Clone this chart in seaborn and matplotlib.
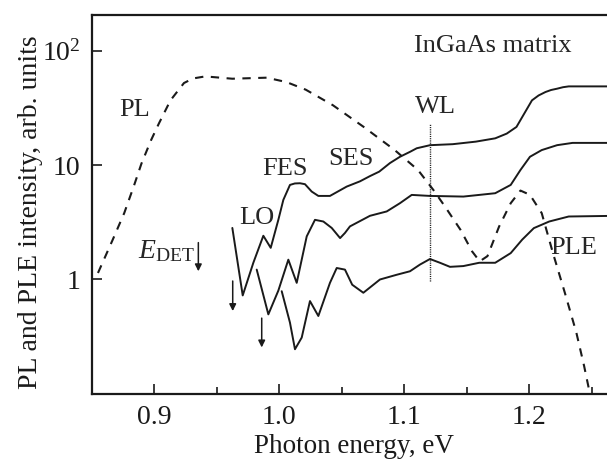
import numpy as np
import pandas as pd
import matplotlib
matplotlib.use("Agg")
import matplotlib.pyplot as plt
import seaborn as sns
from matplotlib.ticker import FixedLocator, FixedFormatter, NullLocator, MultipleLocator

# ---------------- data ----------------
pl_x = [0.855, 0.8666, 0.876, 0.8836, 0.8898, 0.8975, 0.9037, 0.913, 0.9238, 0.931, 0.9408,
        0.9625, 0.990, 1.0058, 1.0212, 1.0429, 1.0676, 1.0924, 1.111, 1.1233, 1.1326,
        1.145, 1.1543, 1.1604, 1.1666, 1.1759, 1.1852, 1.193, 1.2006, 1.21, 1.219,
        1.2285, 1.2377, 1.2439, 1.2486]
pl_y = [1.14, 2.2, 3.8, 6.5, 10.3, 16.5, 23.0, 36.7, 52.0, 57.0, 59.4,
        56.7, 57.9, 53.0, 45.5, 33.3, 21.5, 13.5, 9.05, 6.06, 4.34,
        2.72, 1.76, 1.44, 1.6, 2.9, 4.64, 5.98, 5.49, 3.8, 1.7,
        0.766, 0.344, 0.176, 0.1]

ple1_x = [0.9625, 0.9708, 0.9793, 0.9873, 0.9932, 0.9993, 1.0033, 1.0086, 1.0125, 1.0166, 1.0206,
          1.026, 1.0313, 1.0406, 1.054, 1.0646, 1.0726, 1.08, 1.0886, 1.0966, 1.1048,
          1.11, 1.1207, 1.1388, 1.1573, 1.1728, 1.182, 1.1898, 1.196, 1.2022, 1.2075, 1.213,
          1.2175, 1.2223, 1.227, 1.2316, 1.27]
ple1_y = [2.82, 0.726, 1.40, 2.41, 1.89, 3.32, 4.96, 6.7, 6.9, 6.93, 6.8,
          5.86, 5.37, 5.37, 6.48, 7.2, 8.0, 8.75, 10.4, 11.8, 13.06,
          14.0, 14.9, 15.2, 16.0, 17.1, 18.8, 21.5, 28.1, 36.7, 40.5, 43.4,
          45.2, 46.4, 47.8, 48.6, 48.6]

ple2_x = [0.982, 0.9913, 0.9993, 1.0073, 1.014, 1.022, 1.0286, 1.0353, 1.042, 1.0487,
          1.0526, 1.0566, 1.0726, 1.086, 1.0966, 1.106, 1.1206, 1.1473, 1.16, 1.1728,
          1.1852, 1.193, 1.2006, 1.21, 1.2223, 1.2347, 1.27]
ple2_y = [1.22, 0.496, 0.80, 1.49, 0.935, 2.38, 3.32, 3.21, 2.82, 2.30,
          2.55, 2.91, 3.6, 3.93, 4.64, 5.48, 5.37, 5.3, 5.48, 5.67,
          6.7, 9.05, 11.8, 13.5, 14.9, 15.6, 15.6]

ple3_x = [1.002, 1.0086, 1.0126, 1.018, 1.0246, 1.0313, 1.0406, 1.046, 1.0526, 1.0584,
          1.0673, 1.0806, 1.094, 1.1046, 1.1126, 1.1206, 1.1286, 1.1366, 1.1473, 1.16,
          1.1728, 1.1852, 1.1944, 1.2037, 1.216, 1.2316, 1.27]
ple3_y = [0.79, 0.42, 0.246, 0.311, 0.648, 0.48, 0.935, 1.26, 1.22, 0.9,
          0.766, 1.0, 1.1, 1.18, 1.35, 1.51, 1.4, 1.29, 1.31, 1.4,
          1.4, 1.7, 2.23, 2.81, 3.21, 3.55, 3.6]

x_ticks = [0.9, 1.0, 1.1, 1.2]
x_tick_labels = ["0.9", "1.0", "1.1", "1.2"]
y_ticks = [1, 10, 100]
y_tick_labels = ["1", "10", r"$10^2$"]

# ---------------- style ----------------
sns.set_theme(style="ticks")
plt.rcParams["font.family"] = ["Liberation Serif", "DejaVu Serif"]
plt.rcParams["mathtext.fontset"] = "custom"
plt.rcParams["mathtext.rm"] = "Liberation Serif"
plt.rcParams["mathtext.it"] = "Liberation Serif:italic"
plt.rcParams["mathtext.bf"] = "Liberation Serif:bold"

FS = 19
fig = plt.figure(figsize=(6.07, 4.62), dpi=100)
ax = fig.add_axes([0.1511, 0.1472, 0.8649, 0.8203])

lc = "#1a1a1a"
df_pl = pd.DataFrame({"x": pl_x, "y": pl_y})
sns.lineplot(data=df_pl, x="x", y="y", ax=ax, color=lc, lw=1.5,
             estimator=None, sort=False, linestyle=(0, (4, 3.6)))
for xs, ys in [(ple1_x, ple1_y), (ple2_x, ple2_y), (ple3_x, ple3_y)]:
    d = pd.DataFrame({"x": xs, "y": ys})
    sns.lineplot(data=d, x="x", y="y", ax=ax, color=lc, lw=1.4,
                 estimator=None, sort=False)

ax.set_yscale("log")
ax.set_xlim(0.85, 1.27)
ax.set_ylim(0.1, 10 ** 2.31)

# WL dotted line
ax.plot([1.1207, 1.1207], [0.97, 23], color=lc, lw=1.0, linestyle=(0, (0.8, 0.8)))

# arrows
arrow_kw = dict(arrowstyle="-|>", color=lc, lw=1.1, mutation_scale=10, shrinkA=0, shrinkB=0)
ax.annotate("", xy=(0.9353, 1.18), xytext=(0.9353, 2.1), arrowprops=arrow_kw)
ax.annotate("", xy=(0.9628, 0.53), xytext=(0.9628, 0.97), arrowprops=arrow_kw)
ax.annotate("", xy=(0.986, 0.255), xytext=(0.986, 0.46), arrowprops=arrow_kw)

# texts
ax.text(0.884, 30.5, "PL", fontsize=FS, ha="center", va="center")
ax.text(0.982, 3.44, "LO", fontsize=FS, ha="center", va="center")
ax.text(1.0047, 9.2, "FES", fontsize=FS, ha="center", va="center")
ax.text(1.057, 11.2, "SES", fontsize=FS, ha="center", va="center")
ax.text(1.1247, 32, "WL", fontsize=FS, ha="center", va="center")
ax.text(1.1706, 110, "InGaAs matrix", fontsize=FS, ha="center", va="center")
ax.text(1.2165, 1.89, "PLE", fontsize=FS, ha="left", va="center")
ax.text(0.9325, 1.76, r"$E_{\mathrm{DET}}$", fontsize=FS + 1, ha="right", va="center")

# axes cosmetics
ax.xaxis.set_major_locator(FixedLocator(x_ticks))
ax.xaxis.set_major_formatter(FixedFormatter(x_tick_labels))
ax.xaxis.set_minor_locator(MultipleLocator(0.05))
ax.yaxis.set_major_locator(FixedLocator(y_ticks))
ax.yaxis.set_major_formatter(FixedFormatter(y_tick_labels))
ax.yaxis.set_minor_locator(NullLocator())
ax.tick_params(axis="both", which="major", direction="in", length=7, width=1.2,
               labelsize=20, pad=8, color=lc, labelcolor=lc)
ax.tick_params(axis="x", which="minor", direction="in", length=5, width=1.2, color=lc)
for s in ax.spines.values():
    s.set_linewidth(1.6)
    s.set_color(lc)
ax.set_xlabel("Photon energy, eV", fontsize=19.5, color=lc, labelpad=3)
ax.set_ylabel("PL and PLE intensity, arb. units", fontsize=20, color=lc)
ax.yaxis.set_label_coords(-0.092, 0.48)

fig.savefig("out.png", dpi=100)
